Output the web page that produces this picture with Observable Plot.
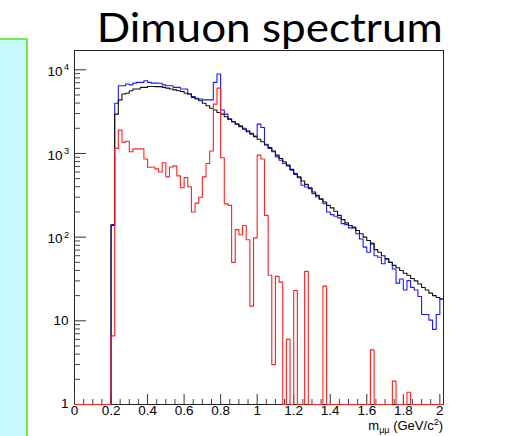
<!DOCTYPE html>
<html>
<head>
<meta charset="utf-8">
<script src="https://cdn.jsdelivr.net/npm/d3@7"></script>
<script src="https://cdn.jsdelivr.net/npm/@observablehq/plot@0.6"></script>
<style>
html, body { margin: 0; padding: 0; background: #ffffff; }
#wrap { position: relative; width: 505px; height: 436px; overflow: hidden; background: #ffffff; }
#chart { position: absolute; left: 0; top: 0; }
#side { position: absolute; left: 0; top: 38px; width: 26px; height: 400px; background: #c6f9fb; border-top: 2px solid #72e84a; border-right: 2px solid #72e84a; }
</style>
</head>
<body>
<div id="wrap"><div id="chart"></div><div id="side"></div></div>
<script>
// ---- data ----
const titleText = "Dimuon spectrum";
const binWidth = 0.02;
const xLow = 0;
const xHigh = 2.02;

// blue histogram (bins of 0.02 GeV/c^2 starting at 0)
const blueCounts = [
  0,0,0,0,0,0,0,0,0,0,
  141,3980,6450,6450,6760,6600,6920,7080,7080,7410,
  7080,6920,6920,6900,6600,6450,6450,6170,6170,5890,
  5890,5130,4790,4570,4470,4370,4370,4370,7080,8910,
  3310,2950,2570,2400,2240,2140,2000,1860,1740,1620,
  2240,2040,1290,1150,1050,910,830,760,710,630,
  560,513,417,398,380,331,302,282,251,200,
  186,178,170,145,141,129,132,110,95,76,
  66,85,60,57.5,48,55,50,41.7,28.2,31.6,
  23.4,30.2,25.1,23.4,19.5,11.9,11.9,10.2,7.9,11.9,
  18.2
];

// black histogram
const blackCounts = [
  0,0,0,0,0,0,0,0,0,0,
  138,2950,4370,5130,5250,5620,5890,5890,6170,6170,
  6310,6310,6300,6290,6170,6030,5890,5750,5620,5500,
  5250,5130,4680,4470,4270,3980,3720,3470,3310,3090,
  2950,2750,2570,2400,2240,2090,1950,1820,1700,1590,
  1480,1380,1260,1175,1070,955,870,795,725,645,
  575,525,468,427,389,347,316,288,263,240,
  224,204,182,162,148,138,129,120,110,100,
  91,83,71,66,60,55,50,46,43,40,
  37,35,32,30,27.5,25,23.4,21.4,20,19,
  18.2
];

// red histogram (0 = empty bin)
const redCounts = [
  0,0,0,0,0,0,0,0,0,0,
  6.6,1150,1900,1365,1400,1050,1135,1135,1135,860,
  685,690,655,600,775,525,690,710,540,390,
  515,400,200,255,300,525,760,1070,3890,6030,
  890,250,240,50,123,107,138,93,15,98,
  955,860,182,35,3,34,29,0,6,0,
  23,0,0,39,0,0,0,0,26,0,
  0,0,0,0,0,0,0,0,0,0,
  0,4.5,0,0,0,0,0,1.9,0,0,
  0,1.4,0,0,0,0,0,0,0,0,
  0
];

const xMajorTicks = [0,0.2,0.4,0.6,0.8,1,1.2,1.4,1.6,1.8,2];
const xMajorLabels = ["0","0.2","0.4","0.6","0.8","1","1.2","1.4","1.6","1.8","2"];
const xMinorTicks = [0.05,0.1,0.15,0.25,0.3,0.35,0.45,0.5,0.55,0.65,0.7,0.75,0.85,0.9,0.95,
  1.05,1.1,1.15,1.25,1.3,1.35,1.45,1.5,1.55,1.65,1.7,1.75,1.85,1.9,1.95];
const yMajorTicks = [1,10,100,1000,10000];
const yLabelBase = ["1","10","10","10","10"];
const yLabelExp = ["","","2","3","4"];
const yMinorTicks = [2,3,4,5,6,7,8,9,20,30,40,50,60,70,80,90,200,300,400,500,600,700,800,900,
  2000,3000,4000,5000,6000,7000,8000,9000];
const yMax = 17000;

// ---- build ----
function steps(counts) {
  const pts = counts.map((c, i) => ({x: xLow + i * binWidth, y: Math.max(c, 1)}));
  pts.push({x: xLow + counts.length * binWidth, y: Math.max(counts[counts.length - 1], 1)});
  return pts;
}

const W = 505, H = 436;
const mL = 74, mR = 62, mT = 50, mB = 32;
const frameW = W - mL - mR, frameH = H - mT - mB;
const font = "'Liberation Sans', Arial, Helvetica, sans-serif";

const yPow = yMajorTicks.map((v, i) => ({v, base: yLabelBase[i], exp: yLabelExp[i]}));

const chart = Plot.plot({
  width: W, height: H,
  marginLeft: mL, marginRight: mR, marginTop: mT, marginBottom: mB,
  style: {background: "transparent", fontFamily: font, overflow: "visible"},
  x: {domain: [xLow, xHigh], axis: null},
  y: {type: "log", domain: [1, yMax], axis: null},
  marks: [
    Plot.frame({stroke: "#222", strokeWidth: 1}),
    Plot.tickY(yMinorTicks, {y: d => d, stroke: "#444", insetRight: frameW - 6}),
    Plot.tickY(yMajorTicks, {y: d => d, stroke: "#333", insetRight: frameW - 12}),
    Plot.tickX(xMinorTicks, {x: d => d, stroke: "#444", insetTop: frameH - 5}),
    Plot.tickX(xMajorTicks, {x: d => d, stroke: "#333", insetTop: frameH - 10}),
    Plot.line(steps(blueCounts), {x: "x", y: "y", curve: "step-after", stroke: "#1a1aff", strokeWidth: 1.1}),
    Plot.line(steps(blackCounts), {x: "x", y: "y", curve: "step-after", stroke: "#111", strokeWidth: 1.1}),
    Plot.line(steps(redCounts), {x: "x", y: "y", curve: "step-after", stroke: "#ff2020", strokeWidth: 1.1}),
    Plot.text(xMajorTicks, {x: d => d, text: (d, i) => xMajorLabels[i], frameAnchor: "bottom", dy: 10,
      fontSize: 13.5, fill: "#000", fontFamily: font}),
    Plot.text(yPow.filter(d => d.exp === ""), {y: "v", text: "base", frameAnchor: "left", dx: -6, dy: -0.5,
      textAnchor: "end", fontSize: 13.5, fill: "#000", fontFamily: font}),
    Plot.text(yPow.filter(d => d.exp !== ""), {y: "v", text: "base", frameAnchor: "left", dx: -12, dy: 2,
      textAnchor: "end", fontSize: 13.5, fill: "#000", fontFamily: font}),
    Plot.text(yPow.filter(d => d.exp !== ""), {y: "v", text: "exp", frameAnchor: "left", dx: -5.5, dy: -2.5,
      textAnchor: "end", fontSize: 9, fill: "#000", fontFamily: font})
  ]
});

document.getElementById("chart").appendChild(chart);

const svg = d3.select(chart);
svg.append("text")
  .attr("x", 96.7).attr("y", 41.7)
  .attr("text-anchor", "start")
  .attr("textLength", 346).attr("lengthAdjust", "spacingAndGlyphs")
  .style("font-family", "Lato, 'Open Sans', 'Noto Sans', sans-serif")
  .style("font-size", "40px")
  .style("fill", "#000")
  .text(titleText);

const xt = svg.append("text")
  .attr("x", 443).attr("y", 430)
  .attr("text-anchor", "end")
  .style("font-family", font)
  .style("font-size", "13px")
  .style("fill", "#000");
xt.append("tspan").text("m");
xt.append("tspan").attr("dy", 3).style("font-size", "9px").text("μμ");
xt.append("tspan").attr("dy", -3).text(" (GeV/c");
xt.append("tspan").attr("dy", -5).style("font-size", "9px").text("2");
xt.append("tspan").attr("dy", 5).text(")");
</script>
</body>
</html>
